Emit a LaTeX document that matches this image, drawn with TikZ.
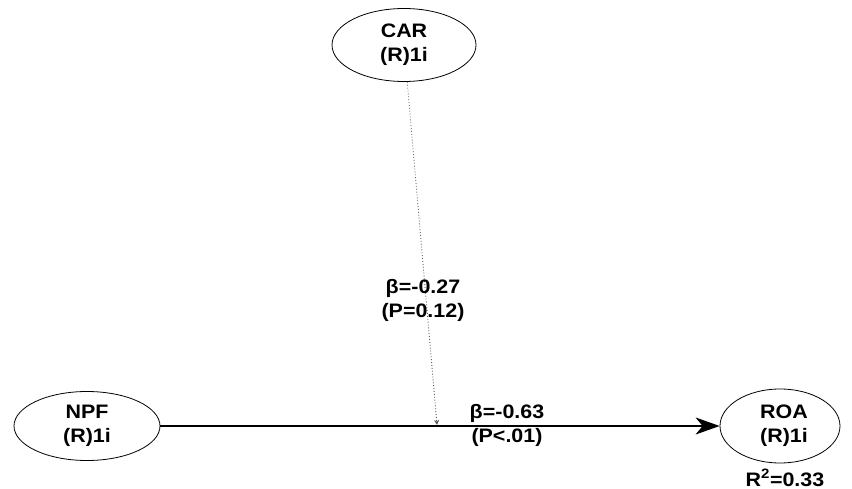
\documentclass[tikz,border=0pt]{standalone}
\usepackage{fontspec}
\setmainfont{Liberation Sans}
\newfontfamily\widefont[FakeStretch=1.1]{Liberation Sans}
\usetikzlibrary{shapes.geometric,arrows.meta}
\begin{document}
\begin{tikzpicture}[x=1pt,y=-1pt,
  latent/.style={ellipse,draw,line width=0.8pt,inner sep=0pt,align=center,
    font=\widefont\fontsize{19.5}{24}\selectfont\bfseries},
  lbl/.style={align=center,inner sep=0pt,font=\widefont\fontsize{19.5}{24}\selectfont\bfseries}]
\useasboundingbox (0,0) rectangle (852,489);
\node[latent,minimum width=144pt,minimum height=73pt] (car) at (404,45) {CAR\\(R)1i};
\node[latent,minimum width=146pt,minimum height=69pt] (npf) at (87,426) {NPF\\(R)1i};
\node[latent,minimum width=120pt,minimum height=74pt] (roa) at (780,426) {\hspace*{8pt}ROA\\\hspace*{8pt}(R)1i};
\coordinate (hit) at (437,425);
\draw[line width=1.1pt,-{Stealth[length=24pt,width=17pt,inset=7pt]}] (npf.east) -- (roa.west);
\draw[dotted,line width=0.9pt,gray!70!black,-{Stealth[length=5pt,width=5pt,open]}] (car) -- (hit);
\node[lbl] (l1) at (423,300) {β=-0.27\\(P=0.12)};
\node[lbl] (l2) at (507,425) {β=-0.63\\(P<.01)};
\node[lbl] (r2) at (785,478) {R\textsuperscript{2}=0.33};
\end{tikzpicture}
\end{document}
